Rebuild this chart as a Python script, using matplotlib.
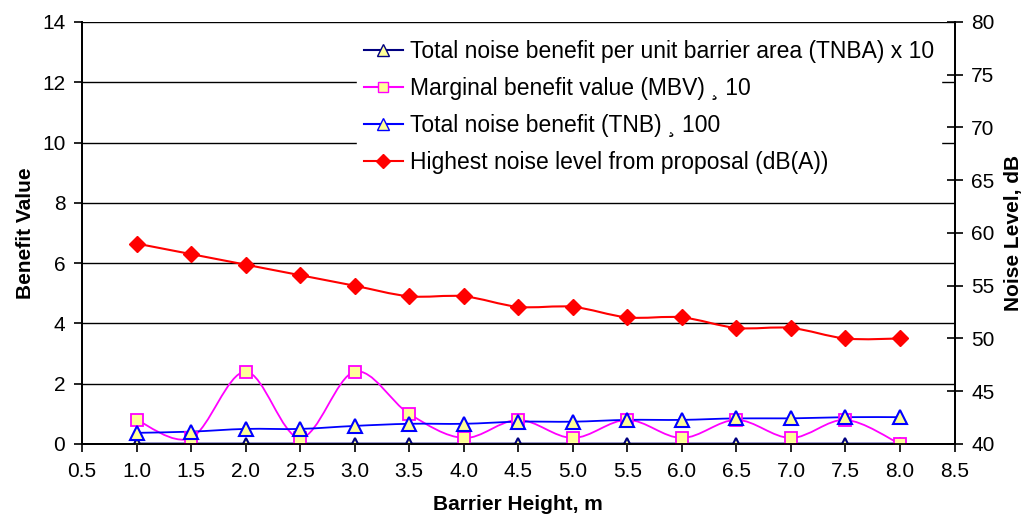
import numpy as np
import matplotlib.pyplot as plt
from matplotlib.path import Path
from matplotlib.patches import PathPatch
from matplotlib.lines import Line2D

plt.rcParams['font.family'] = ['Liberation Sans', 'DejaVu Sans']

height = [1.0, 1.5, 2.0, 2.5, 3.0, 3.5, 4.0, 4.5, 5.0, 5.5, 6.0, 6.5, 7.0, 7.5, 8.0]
tnba = [0, 0, 0, 0, 0, 0, 0, 0, 0, 0, 0, 0, 0, 0, 0]
mbv = [0.8, 0.2, 2.4, 0.2, 2.4, 1.0, 0.2, 0.8, 0.2, 0.8, 0.2, 0.8, 0.2, 0.8, 0.0]
tnb = [0.37, 0.41, 0.5, 0.5, 0.6, 0.67, 0.67, 0.74, 0.74, 0.8, 0.8, 0.85, 0.85, 0.89, 0.89]
noise = [59, 58, 57, 56, 55, 54, 54, 53, 53, 52, 52, 51, 51, 50, 50]

labels = ['Total noise benefit per unit barrier area (TNBA) x 10',
          'Marginal benefit value (MBV) \u00b8 10',
          'Total noise benefit (TNB) \u00b8 100',
          'Highest noise level from proposal (dB(A))']


def smooth(ax, x, y, color, lw=1.3):
    # excel-like smoothed line: catmull-rom as cubic bezier segments
    p = np.column_stack([x, y]).astype(float)
    n = len(p)
    verts = [p[0]]
    codes = [Path.MOVETO]
    for i in range(n - 1):
        p0 = p[i - 1] if i > 0 else p[i]
        p3 = p[i + 2] if i + 2 < n else p[i + 1]
        c1 = p[i] + (p[i + 1] - p0) / 6
        c2 = p[i + 1] - (p3 - p[i]) / 6
        verts += [c1, c2, p[i + 1]]
        codes += [Path.CURVE4] * 3
    ax.add_patch(PathPatch(Path(verts, codes), fill=False, edgecolor=color, lw=lw, zorder=3))


fig = plt.figure(figsize=(10.22, 5.21), dpi=100)
ax = fig.add_axes([0.0802, 0.1478, 0.8538, 0.81])
ax2 = ax.twinx()

smooth(ax, height, tnba, '#000080', lw=2)
ax.plot(height, tnba, ls='none', marker='^', ms=9, mfc='#FFFF99', mec='#000080', mew=1.5, zorder=4)
smooth(ax, height, mbv, '#FF00FF')
ax.plot(height, mbv, ls='none', marker='s', ms=8, mfc='#FFFF99', mec='#FF00FF', mew=1.3, zorder=4)
smooth(ax, height, tnb, '#0000FF')
ax.plot(height, tnb, ls='none', marker='^', ms=10, mfc='#FFFF99', mec='#0000FF', mew=1.5, zorder=4)
smooth(ax2, height, noise, '#FF0000', lw=1.5)
ax2.plot(height, noise, ls='none', marker='D', ms=8, color='#FF0000', zorder=4)

ax.set_xlim(0.5, 8.5)
ax.set_ylim(0, 14)
ax2.set_ylim(40, 80)
ax.set_xticks(np.arange(0.5, 8.51, 0.5))
ax.set_xticklabels(['%.1f' % v for v in np.arange(0.5, 8.51, 0.5)])
ax.set_yticks(range(0, 15, 2))
ax2.set_yticks(range(40, 81, 5))
ax.yaxis.grid(True, color='black', lw=1)
ax.set_axisbelow(True)

for a in (ax, ax2):
    a.spines['top'].set_visible(False)
    for s in a.spines.values():
        s.set_linewidth(1.3)
ax.tick_params(axis='both', labelsize=15, length=6, width=1.2, pad=6)
ax.tick_params(axis='x', pad=7)
ax2.tick_params(axis='y', labelsize=15, direction='inout', length=12, width=1.2, pad=6)

ax.set_xlabel('Barrier Height, m', fontsize=15, fontweight='bold', labelpad=10)
ax.set_ylabel('Benefit Value', fontsize=15, fontweight='bold', labelpad=5)
ax2.set_ylabel('Noise Level, dB', fontsize=15, fontweight='bold', labelpad=7)

handles = [
    Line2D([], [], color='#000080', lw=1.5, marker='^', ms=8, mfc='#FFFF99', mec='#000080'),
    Line2D([], [], color='#FF00FF', lw=1.5, marker='s', ms=7, mfc='#FFFF99', mec='#FF00FF'),
    Line2D([], [], color='#0000FF', lw=1.5, marker='^', ms=8, mfc='#FFFF99', mec='#0000FF'),
    Line2D([], [], color='#FF0000', lw=1.5, marker='D', ms=7),
]
leg = ax2.legend(handles, labels, loc='upper left', bbox_to_anchor=(0.302, 1.0), fontsize=16.5,
                 frameon=True, framealpha=1, edgecolor='white', fancybox=False,
                 handlelength=1.7, handletextpad=0.3, labelspacing=0.6, borderpad=0.3)
leg.set_zorder(10)

fig.savefig('out.png', dpi=100)
